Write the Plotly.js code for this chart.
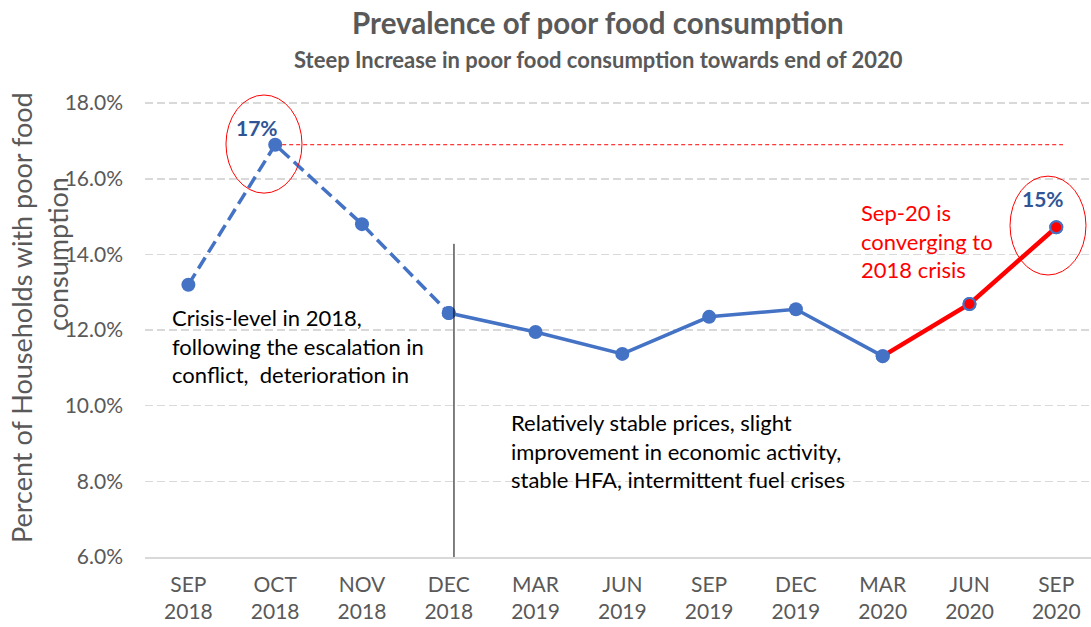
<!DOCTYPE html>
<html>
<head>
<meta charset="utf-8">
<script src="https://cdn.plot.ly/plotly-3.0.1.min.js"></script>
<style>html,body{margin:0;padding:0;background:#fff;}#chart{width:1091px;height:627px;}</style>
</head>
<body>
<div id="chart"></div>
<script>
const months = ['SEP','OCT','NOV','DEC','MAR','JUN','SEP','DEC','MAR','JUN','SEP'];
const years = ['2018','2018','2018','2018','2019','2019','2019','2019','2020','2020','2020'];
const values = [13.2, 16.9, 14.8, 12.45, 11.95, 11.37, 12.35, 12.55, 11.31, 12.69, 14.72];
const titleText = 'Prevalence of poor food consumption';
const subtitleText = 'Steep Increase in poor food consumption towards end of 2020';
const yTitleLine1 = 'Percent of Households with poor food';
const yTitleLine2 = 'consumption';
const note2018 = 'Crisis-level in 2018,<br>following the escalation in<br>conflict,\u00a0 deterioration in';
const noteStable = 'Relatively stable prices, slight<br>improvement in economic activity,<br>stable HFA, intermittent fuel crises';
const noteSep20 = 'Sep-20 is<br>converging to<br>2018 crisis';

const cats = months.map((m, i) => m + '<br>' + years[i]);
const FONT = 'Lato, "Open Sans", sans-serif';
const BLUE = '#4472C4';
const DARKBLUE = '#2F5597';
const GRAY = '#595959';

const redTrace = {
  x: cats.slice(8), y: values.slice(8), type: 'scatter', mode: 'lines+markers',
  line: {color: '#FF0000', width: 4.5},
  marker: {size: 12, color: [BLUE, '#FF0000', '#FF0000'], line: {color: BLUE, width: 2}},
  showlegend: false
};
const dashedTrace = {
  x: cats.slice(0, 4), y: values.slice(0, 4), type: 'scatter', mode: 'lines+markers',
  line: {color: BLUE, width: 3.5, dash: '13px,6px'},
  marker: {size: 14, color: BLUE},
  showlegend: false
};
const solidTrace = {
  x: cats.slice(3, 9), y: values.slice(3, 9), type: 'scatter', mode: 'lines+markers',
  line: {color: BLUE, width: 3.5},
  marker: {size: 14, color: BLUE},
  showlegend: false
};
const redMarkers = {
  x: cats.slice(9), y: values.slice(9), type: 'scatter', mode: 'markers',
  marker: {size: 12, color: '#FF0000', line: {color: BLUE, width: 2}},
  showlegend: false
};

const layout = {
  width: 1091, height: 627,
  margin: {l: 145, r: 0, t: 88, b: 70},
  paper_bgcolor: '#FFFFFF', plot_bgcolor: '#FFFFFF',
  font: {family: FONT, color: GRAY},
  title: {
    text: titleText, xref: 'container', x: 0.548, xanchor: 'center',
    yref: 'container', y: 0.979, yanchor: 'top',
    font: {family: FONT, size: 29.5, weight: 'bold', color: GRAY}
  },
  xaxis: {
    type: 'category', categoryorder: 'array', categoryarray: cats,
    range: [-0.5, 10.4], showgrid: false, zeroline: false,
    showline: true, linecolor: '#D9D9D9', linewidth: 1.5,
    ticks: '', tickfont: {family: FONT, size: 21, color: GRAY},
    ticklabelstandoff: 8, fixedrange: true
  },
  yaxis: {
    range: [6, 18.4], tick0: 6, dtick: 2, tickformat: '.1f', ticksuffix: '%',
    showgrid: true, gridcolor: '#D9D9D9', gridwidth: 1.5, griddash: '8px,4px',
    zeroline: false, showline: false, ticks: '',
    tickfont: {family: FONT, size: 21, color: GRAY},
    ticklabelstandoff: 21, fixedrange: true
  },
  shapes: [
    {type: 'line', xref: 'x', yref: 'y', x0: 1, x1: 10.077, y0: values[1], y1: values[1],
     line: {color: '#FF0000', width: 1, dash: '4px,3px'}, layer: 'below'},
    {type: 'line', xref: 'x', yref: 'y', x0: 3.06, x1: 3.06, y0: 6, y1: 14.28,
     line: {color: '#000000', width: 1}},
    {type: 'circle', xref: 'x', yref: 'y', x0: 0.433, x1: 1.309, y0: 15.62, y1: 18.215,
     line: {color: '#FF0000', width: 1}},
    {type: 'circle', xref: 'x', yref: 'y', x0: 9.467, x1: 10.342, y0: 13.456, y1: 16.07,
     line: {color: '#FF0000', width: 1}}
  ],
  annotations: [
    {text: subtitleText, xref: 'paper', yref: 'paper', x: 0.4795, y: 1.0618,
     xanchor: 'center', yanchor: 'middle', showarrow: false,
     font: {family: FONT, size: 22, weight: 'bold', color: GRAY}},
    {text: yTitleLine1, xref: 'paper', yref: 'paper', x: -0.130, y: 0.5096,
     xanchor: 'center', yanchor: 'middle', textangle: -90, showarrow: false,
     font: {family: FONT, size: 27, color: GRAY}},
    {text: yTitleLine2, xref: 'paper', yref: 'paper', x: -0.093, y: 0.646,
     xanchor: 'center', yanchor: 'middle', textangle: -90, showarrow: false,
     font: {family: FONT, size: 27, color: GRAY}},
    {text: Math.round(values[1]) + '%', xref: 'x', yref: 'y', x: cats[1], y: values[1],
     xshift: -18, yshift: 17, showarrow: false,
     font: {family: FONT, size: 21, weight: 'bold', color: DARKBLUE}},
    {text: Math.round(values[10]) + '%', xref: 'x', yref: 'y', x: cats[10], y: values[10],
     xshift: -13, yshift: 29, showarrow: false,
     font: {family: FONT, size: 21, weight: 'bold', color: DARKBLUE}},
    {text: note2018, xref: 'paper', yref: 'paper', x: 0.0264, y: 0.4498,
     xanchor: 'left', yanchor: 'middle', align: 'left', showarrow: false,
     font: {family: FONT, size: 22, color: '#000000'}},
    {text: noteStable, xref: 'paper', yref: 'paper', x: 0.385, y: 0.2260,
     xanchor: 'left', yanchor: 'middle', align: 'left', showarrow: false,
     font: {family: FONT, size: 22, color: '#000000'}},
    {text: noteSep20, xref: 'paper', yref: 'paper', x: 0.755, y: 0.6737,
     xanchor: 'left', yanchor: 'middle', align: 'left', showarrow: false,
     font: {family: FONT, size: 22, color: '#FF0000'}}
  ]
};

Plotly.newPlot('chart', [redTrace, dashedTrace, solidTrace, redMarkers], layout, {displayModeBar: false, staticPlot: true});
</script>
</body>
</html>
